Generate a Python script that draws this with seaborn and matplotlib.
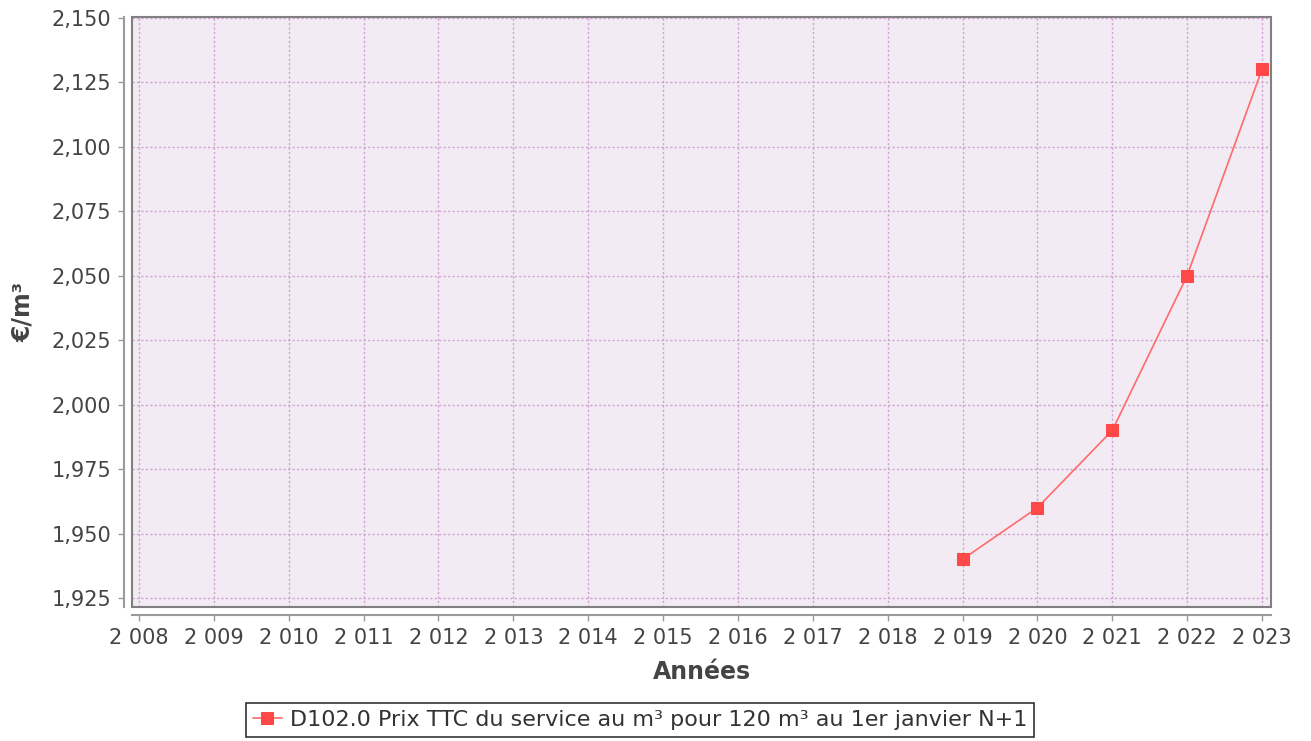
import numpy as np
import pandas as pd
import seaborn as sns
from matplotlib import pyplot as plt
from matplotlib.patches import Rectangle
from matplotlib.ticker import FuncFormatter, MultipleLocator

annees = [2019, 2020, 2021, 2022, 2023]
prix = [1.94, 1.96, 1.99, 2.05, 2.13]
serie = "D102.0 Prix TTC du service au m³ pour 120 m³ au 1er janvier N+1"
ticks_annees = list(range(2008, 2024))

df = pd.DataFrame({"Années": annees, "prix": prix, "serie": serie})

sns.set_theme(style="white")
plt.rcParams['font.family'] = ['DejaVu Sans']

fig = plt.figure(figsize=(13.11, 7.41), dpi=100)
ax = fig.add_axes([132 / 1311, 1 - 607 / 741, (1271 - 132) / 1311, (607 - 17) / 741])
ax.set_facecolor("#f3ebf3")

sns.lineplot(data=df, x="Années", y="prix", hue="serie", palette=["#ff6a6a"],
             marker="s", markersize=8, markerfacecolor="#ff4848", markeredgecolor="#ff4848",
             linewidth=1.2, ax=ax)

ax.set_xlim(2007.907, 2023.12)
ax.set_ylim(1.9215, 2.1503)
ax.set_xticks(ticks_annees)
ax.xaxis.set_major_formatter(FuncFormatter(lambda v, p: f"{int(round(v)):,}".replace(",", " ")))
ax.yaxis.set_major_locator(MultipleLocator(0.025))
ax.yaxis.set_major_formatter(FuncFormatter(lambda v, p: f"{v:.3f}".replace(".", ",")))

ax.grid(True, color="#cfa2d4", linestyle=(0, (1.6, 1.6)), linewidth=1.0)

# axes decalees, comme jfreechart
for s in ["top", "right"]:
    ax.spines[s].set_visible(False)
for s in ["left", "bottom"]:
    ax.spines[s].set_position(("outward", 6))
    ax.spines[s].set_color("#9a9a9a")
    ax.spines[s].set_linewidth(1.5)
ax.add_patch(Rectangle((0, 0), 1, 1, transform=ax.transAxes, fill=False,
                       edgecolor="#808080", linewidth=1.5, clip_on=False, zorder=5))

ax.tick_params(axis="both", which="both", length=4, width=1, color="#9a9a9a",
               labelsize=15, labelcolor="#444444", direction="out", pad=5)
ax.tick_params(axis="x", bottom=True)
ax.tick_params(axis="y", left=True)

ax.set_xlabel("Années", fontsize=17, fontweight="bold", color="#444444", labelpad=9)
ax.set_ylabel("€/m³", fontsize=17, fontweight="bold", color="#444444", labelpad=12)

leg = ax.legend(loc="center", bbox_to_anchor=(640 / 1311, 1 - 720 / 741),
                bbox_transform=fig.transFigure, frameon=True, fontsize=16,
                fancybox=False, handlelength=1.3, handletextpad=0.35,
                borderpad=0.3, labelcolor="#333333")
leg.get_frame().set_edgecolor("black")
leg.get_frame().set_linewidth(1.2)

fig.savefig("out.png", dpi=100)
